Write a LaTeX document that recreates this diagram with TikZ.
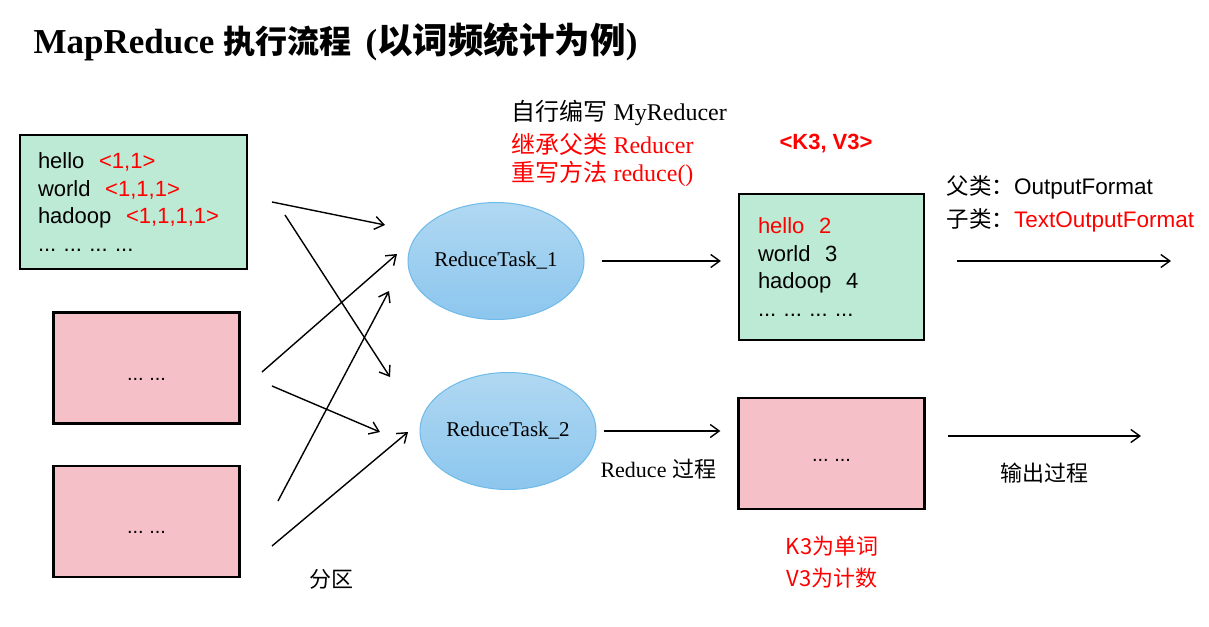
\documentclass[tikz,border=0pt]{standalone}
\usepackage{fontspec}
\setmainfont{Liberation Serif}
\setsansfont{Liberation Sans}
\newfontfamily\cjk{Noto Sans CJK SC}
\usepackage{tikz}
\usetikzlibrary{arrows.meta,shapes.geometric}

\definecolor{boxgreen}{RGB}{188,234,212}
\definecolor{boxpink}{RGB}{246,192,200}
\definecolor{tasktop}{RGB}{176,216,242}
\definecolor{taskbot}{RGB}{140,198,238}
\definecolor{taskline}{RGB}{110,186,232}
\newcommand{\redtxt}[1]{\textcolor{red}{#1}}

\tikzset{
  databox/.style={draw=black, line width=2.2pt},
  greenbox/.style={databox, fill=boxgreen, align=left, inner ysep=0pt,
    font=\sffamily\fontsize{22}{27.7}\selectfont},
  pinkbox/.style={databox, fill=boxpink, minimum width=186pt, minimum height=111pt,
    text height=24pt, text depth=0pt, font=\sffamily\fontsize{20}{24}\selectfont},
  task/.style={ellipse, draw=taskline, line width=1pt, top color=tasktop,
    bottom color=taskbot, minimum width=176pt, minimum height=117pt, inner sep=0pt},
  every label/.style={font=\fontsize{21}{25}\selectfont},
  flow/.style={-{Straight Barb[length=9pt,width=13pt]}, line width=1.4pt},
}

\begin{document}
\begin{tikzpicture}[x=1pt,y=-1pt]
\useasboundingbox[fill=white] (0,0) rectangle (1209,626);

% title
\node[anchor=west, font=\fontsize{35}{40}\selectfont\bfseries] (title) at (30,42)
  {MapReduce {\cjk\fontsize{32}{40}\selectfont 执行流程} \,({\cjk\fontsize{35.5}{40}\selectfont 以词频统计为例})};

% map output
\node[greenbox, text width=191pt, inner xsep=18pt, minimum height=134pt] (in1) at (133.5,202)
  {hello~~\redtxt{<1,1>}\\world~~\redtxt{<1,1,1>}\\hadoop~~\redtxt{<1,1,1,1>}\\...\ ...\ ...\ ...};
\node[pinkbox] (in2) at (146.5,368) {...\ ...};
\node[pinkbox] (in3) at (146.5,521.5) {...\ ...};

% reduce tasks
\node[task, label=center:{ReduceTask\_1}] (e1) at (496,261) {};
\node[task, label=center:{ReduceTask\_2}] (e2) at (508,431) {};

% reduce output
\node[greenbox, text width=147pt, inner xsep=19pt, minimum height=146pt] (out1) at (831.5,267)
  {\redtxt{hello~~2}\\world~~3\\hadoop~~4\\...\ ...\ ...\ ...};
\node[pinkbox, text height=16pt] (out2) at (831.5,453.5) {...\ ...};

% texts
\node[anchor=west, font=\fontsize{24}{28}\selectfont] (mine) at (508,113) {{\cjk 自行编写} MyReducer};
\node[anchor=west, font=\fontsize{24}{28}\selectfont, red] (inherit) at (508,144) {{\cjk 继承父类} Reducer};
\node[anchor=west, font=\fontsize{24}{28}\selectfont, red] (override) at (508,174) {{\cjk 重写方法} reduce()};
\node[font=\sffamily\bfseries\fontsize{22}{26}\selectfont, red] (kv) at (826,144) {<K3, V3>};
\node[anchor=west, font=\sffamily\fontsize{22.5}{26}\selectfont] (parent) at (943,187) {{\cjk 父类：}OutputFormat};
\node[anchor=west, font=\sffamily\fontsize{22.5}{26}\selectfont] (child) at (943,220) {{\cjk 子类：}\redtxt{TextOutputFormat}};
\node[anchor=west, font=\fontsize{22}{26}\selectfont] (rproc) at (597,469) {Reduce {\cjk 过程}};
\node[font=\cjk\fontsize{22}{26}\selectfont] (oproc) at (1044,473) {输出过程};
\node[font=\cjk\fontsize{22}{26}\selectfont] (part) at (331,579) {分区};
\node[font=\cjk\fontsize{22}{26}\selectfont, red] (kword) at (832,546) {K3为单词};
\node[font=\cjk\fontsize{22}{26}\selectfont, red] (vcount) at (832,578) {V3为计数};

% partition arrows
\coordinate (s1) at (272,202); \coordinate (t1) at (385,225);
\coordinate (s2) at (285,215); \coordinate (t2) at (390,377);
\coordinate (s3) at (262,372); \coordinate (t3) at (397,254);
\coordinate (s4) at (272,386); \coordinate (t4) at (380,432);
\coordinate (s5) at (278,501); \coordinate (t5) at (389,291);
\coordinate (s6) at (272,546); \coordinate (t6) at (408,432);
\foreach \i in {1,...,6}
  \draw[flow] (s\i) -- (t\i);

% reduce and output arrows
\draw[flow, shorten <=17pt, shorten >=17pt] (e1.east) -- (e1.east -| out1.west);
\draw[flow, shorten <=7pt, shorten >=17pt] (e2.east) -- (e2.east -| out2.west);
\coordinate (v1) at (957,261); \coordinate (w1) at (1171,261);
\coordinate (v2) at (948,436); \coordinate (w2) at (1141,436);
\draw[flow] (v1) -- (w1);
\draw[flow] (v2) -- (w2);
\end{tikzpicture}
\end{document}
